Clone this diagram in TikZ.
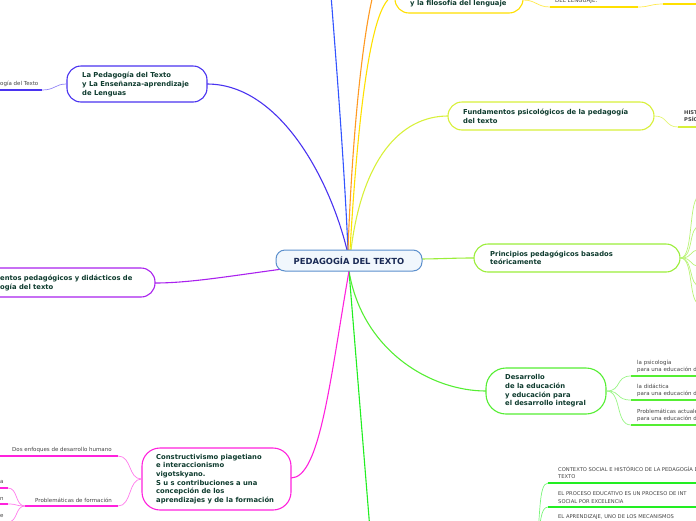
\documentclass[tikz,border=0pt]{standalone}
\usepackage{fontspec}
\setmainfont{DejaVu Sans}
\definecolor{tdark}{HTML}{0E3B2E}
\definecolor{tnavy}{HTML}{1A2A55}
\definecolor{tgray}{HTML}{444444}
\definecolor{cblue}{HTML}{3355FF}
\definecolor{cviol}{HTML}{4A33F0}
\definecolor{corange}{HTML}{FF9A22}
\definecolor{cyellow}{HTML}{FFE000}
\definecolor{cyg}{HTML}{D8F03A}
\definecolor{clg}{HTML}{9BEE3A}
\definecolor{cgreen}{HTML}{55EE33}
\definecolor{cbright}{HTML}{22EE22}
\definecolor{cmag}{HTML}{FF22DD}
\definecolor{cpurp}{HTML}{AA22EE}
\definecolor{cborder}{HTML}{5B8FCC}
\definecolor{cfill}{HTML}{F1F7FD}
\tikzset{
  mnode/.style={draw, rounded corners=14pt, line width=1.1pt, fill=white, inner sep=0pt},
  ntext/.style={font=\bfseries\fontsize{6.8}{8.6}\selectfont, text=tdark, align=left, anchor=west, inner sep=0pt},
  lbl/.style={font=\fontsize{5.5}{7.2}\selectfont, text=tgray, align=left, anchor=west, inner sep=0pt},
  conn/.style={line width=1.1pt},
  sub/.style={line width=0.7pt},
  uline/.style={line width=1.7pt}
}
\begin{document}
\begin{tikzpicture}[x=1pt,y=-1pt]
\useasboundingbox (0,0) rectangle (696,520);
\clip (0,0) rectangle (696,520);

% anchor coordinates
\coordinate (ctop) at (348,250);
\coordinate (cbot) at (349,271);
\coordinate (topblue) at (331,-5);
\coordinate (toporange) at (373,-5);
\coordinate (botgreen) at (370,530);

% main connectors (drawn first)
\draw[conn, cblue] (ctop) .. controls (344,160) and (336,60) .. (topblue);
\draw[conn, corange] (ctop) .. controls (352,140) and (362,40) .. (toporange);
\draw[conn, cyellow] (350,250) .. controls (356,150) and (368,-4) .. (395,-4);
\draw[conn, cyg] (351,250) .. controls (362,160) and (400,116) .. (448,116);
\draw[conn, clg] (415,259) .. controls (440,259) and (450,258) .. (474,258);
\draw[conn, cviol] (347,250) .. controls (330,180) and (280,84) .. (207,84);
\draw[conn, cpurp] (290,268) .. controls (230,276) and (190,283) .. (155,283);
\draw[conn, cgreen] (cbot) .. controls (362,350) and (430,391) .. (486,391);
\draw[conn, cbright] (cbot) -- (botgreen);
\draw[conn, cmag] (cbot) .. controls (330,380) and (320,478) .. (291,478);

% centre
\node[draw=cborder, fill=cfill, rounded corners=9pt, line width=1pt, minimum width=146pt, minimum height=21pt, inner sep=0pt,
      font=\bfseries\fontsize{8.4}{9}\selectfont, text=tnavy] (center) at (349,260.5) {PEDAGOGÍA DEL TEXTO};

% main nodes
\node[mnode, draw=cviol, minimum width=140pt, minimum height=36pt] (lapeda) at (137,84) {};
\node[ntext] (lapedat) at (82,84.5) {La Pedagogía del Texto\\y La Enseñanza-aprendizaje\\de Lenguas};

\node[mnode, draw=cyellow, minimum width=128pt, minimum height=38pt] (filos) at (459,-6) {};
\node[ntext] (filost) at (410,4) {y la filosofía del lenguaje};

\node[mnode, draw=cyg, minimum width=206pt, minimum height=28pt] (fpsico) at (551,116) {};
\node[ntext] (fpsicot) at (463,116.5) {Fundamentos psicológicos de la pedagogía\\del texto};

\node[mnode, draw=clg, minimum width=206pt, minimum height=28pt] (princ) at (577,258) {};
\node[ntext] (princt) at (490,258) {Principios pedagógicos basados\\teóricamente};

\node[mnode, draw=cgreen, rounded corners=20pt, minimum width=120pt, minimum height=46pt] (desarr) at (546,391) {};
\node[ntext] (desarrt) at (505,391) {Desarrollo\\de la educación\\y educación para\\el desarrollo integral};

\node[mnode, draw=cmag, rounded corners=18pt, minimum width=149pt, minimum height=62pt] (constr) at (216.5,479) {};
\node[ntext] (constrt) at (156,479) {Constructivismo piagetiano\\e interaccionismo\\vigotskyano.\\S u s contribuciones a una\\concepción de los\\aprendizajes y de la formación};

\node[mnode, draw=cpurp, minimum width=215pt, minimum height=29pt] (fundped) at (47.5,282.5) {};
\node[ntext] (fundpedt) at (0,283) {entos pedagógicos y didácticos de\\ogía del texto};

% ---- sub-branches ----
% La Pedagogía -> left label
\coordinate (lp1) at (42,90);
\draw[sub, cviol!60] (lapeda.west) .. controls (55,84) and (55,90) .. (lp1);
\draw[uline, cviol] (0,90) -- (lp1);
\node[lbl] (lp1t) at (0,84) {ogía del Texto};

% filosofía -> DEL LENGUAJE.
\coordinate (fl1) at (550,7);
\coordinate (fl1e) at (638,7);
\coordinate (fl2) at (663,4);
\draw[sub, cyellow!70] (523,0) .. controls (536,0) and (537,7) .. (fl1);
\draw[uline, cyellow] (fl1) -- (fl1e);
\draw[sub, cyellow!70] (fl1e) .. controls (650,7) and (650,4) .. (fl2);
\draw[uline, cyellow] (fl2) -- (700,4);
\node[lbl] (fl1t) at (555,1.5) {DEL LENGUAJE.};

% fundamentos psicológicos -> HIST
\coordinate (fp1) at (678,127);
\draw[sub, cyg!70] (fpsico.east) .. controls (668,116) and (665,127) .. (fp1);
\draw[uline, cyg] (fp1) -- (700,127);
\node[lbl, font=\bfseries\fontsize{5.2}{7.2}\selectfont] (fp1t) at (684,116.5) {HIST\\PSÍC};

% principios fan
\foreach \t in {196,226,250,266,286,304}{
  \draw[sub, clg!70] (princ.east) .. controls (694,258) and (688,\t) .. (700,\t);
}

% desarrollo fan
\foreach \y/\txt in {376/{la psicología\\para una educación d},400/{la didáctica\\para una educación d},425/{Problemáticas actuale\\para una educación d}}{
  \draw[sub, cgreen!60] (desarr.east) .. controls (622,391) and (615,\y) .. (631,\y);
  \draw[uline, cgreen] (631,\y) -- (700,\y);
  \node[lbl] at (637,\y-10) {\txt};
}

% bottom-right group
\coordinate (br0) at (536,545);
\draw[sub, cbright!60] (548,483) .. controls (538,483) and (541,520) .. (br0);
\draw[sub, cbright!60] (548,507) .. controls (540,507) and (541,525) .. (br0);
\draw[sub, cbright!60] (548,524) .. controls (540,524) and (541,530) .. (br0);
\draw[uline, cbright] (548,483) -- (700,483);
\draw[uline, cbright] (548,507) -- (700,507);
\draw[uline, cbright] (548,524) -- (700,524);
\node[lbl, font=\fontsize{5.2}{7.2}\selectfont] (br1t) at (558,473) {CONTEXTO SOCIAL E HISTÓRICO DE LA PEDAGOGÍA DEL\\TEXTO};
\node[lbl, font=\fontsize{5.2}{7.2}\selectfont] (br2t) at (558,497.5) {EL PROCESO EDUCATIVO ES UN PROCESO DE INT\\SOCIAL POR EXCELENCIA};
\node[lbl, font=\fontsize{5.2}{7.2}\selectfont] (br3t) at (558,517) {EL APRENDIZAJE, UNO DE LOS MECANISMOS};

% constructivismo fan
\coordinate (cm1) at (118,456);
\coordinate (cm2) at (118,506);
\draw[sub, cmag!60] (constr.west) .. controls (128,479) and (132,456) .. (cm1);
\draw[sub, cmag!60] (constr.west) .. controls (128,479) and (132,506) .. (cm2);
\draw[uline, cmag] (0,456) -- (cm1);
\draw[uline, cmag] (25,506) -- (cm2);
\node[lbl] (cm1t) at (12,450) {Dos enfoques de desarrollo humano};
\node[lbl] (cm2t) at (35,500) {Problemáticas de formación};
% children of Problemáticas
\foreach \y in {488,504,522}{
  \draw[sub, cmag!60] (25,506) .. controls (15,506) and (18,\y) .. (8,\y);
  \draw[uline, cmag] (-2,\y) -- (8,\y);
}
\node[lbl] (cc1) at (0,482) {a};
\node[lbl] (cc2) at (0,499) {n};
\node[lbl] (cc3) at (0,516) {e};
\end{tikzpicture}
\end{document}
